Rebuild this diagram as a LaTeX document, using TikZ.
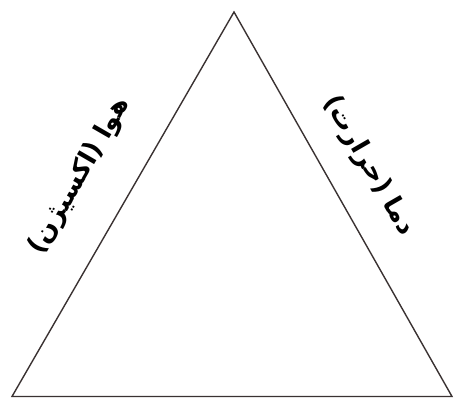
\documentclass[tikz,border=0pt]{standalone}
\usepackage{fontspec}
\newfontfamily\arabicfont[Script=Arabic]{DejaVu Sans}
\TeXXeTstate=1
\definecolor{edge}{HTML}{3A3232}
\begin{document}
\begin{tikzpicture}[x=1pt,y=-1pt,
  side/.style={draw=edge,line width=1.4pt,line join=miter},
  lbl/.style={font=\arabicfont\bfseries\fontsize{26}{30}\selectfont,text=black,inner sep=0pt}]
\useasboundingbox (0,0) rectangle (455,398);
\coordinate (apex) at (234,12);
\coordinate (bl) at (12,396.5);
\coordinate (br) at (452,396.5);
\draw[side] (apex) -- (bl) -- (br) -- cycle;
\node[lbl,rotate=60] (air) at (80,176) {\beginR هوا (اکسیژن)\endR};
\node[lbl,rotate=-60] (heat) at (369,166) {\beginR دما (حرارت)\endR};
\end{tikzpicture}
\end{document}
